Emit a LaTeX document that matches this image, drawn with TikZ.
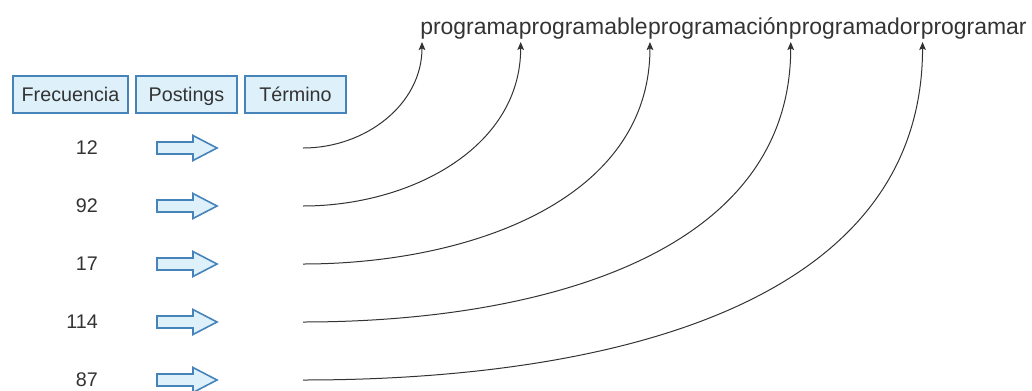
\documentclass[tikz,border=0pt]{standalone}
\usepackage{fontspec}
\setmainfont{Liberation Sans}
\usetikzlibrary{arrows.meta}
\definecolor{boxfill}{HTML}{DEF1FB}
\definecolor{boxdraw}{HTML}{4683B8}
\definecolor{txt}{HTML}{333333}
\begin{document}
\begin{tikzpicture}[x=0.75pt,y=-0.75pt,
  hdr/.style={draw=boxdraw,fill=boxfill,line width=1.5pt,minimum height=27.75pt,inner sep=0pt,text height=10.6pt,text depth=0pt,font=\fontsize{14.8}{17}\selectfont,text=txt},
  num/.style={anchor=east,inner sep=0pt,font=\fontsize{14.8}{17}\selectfont,text=txt},
  word/.style={anchor=base west,inner sep=0pt,font=\fontsize{17.2}{20}\selectfont,text=txt},
  conn/.style={draw=txt,line width=0.75pt,-{Stealth[length=6pt,width=5pt,inset=1.2pt]}},
  blk/.style={draw=boxdraw,fill=boxfill,line width=1.2pt,line join=miter}]
\useasboundingbox (0,0) rectangle (1032,390);

% header
\node[hdr,minimum width=86.25pt] (hf) at (70.5,94) {Frecuencia};
\node[hdr,minimum width=75.75pt] (hp) at (186.5,94) {Postings};
\node[hdr,minimum width=75.75pt] (ht) at (295.5,94) {Término};

% top words
\node[word] (w1) at (420,34) {programa};
\node[word] (w2) at (w1.base east) {programable};
\node[word] (w3) at (w2.base east) {programación};
\node[word] (w4) at (w3.base east) {programador};
\node[word] (w5) at (w4.base east) {programar};

% rows
\foreach \i/\n/\y in {1/12/148,2/92/206,3/17/264,4/114/322,5/87/380}{
  \node[num] (n\i) at (98,\y) {\n};
  \draw[blk] (157,\y-6) -- (193,\y-6) -- (193,\y-12.5) -- (217,\y) -- (193,\y+12.5) -- (193,\y+6) -- (157,\y+6) -- cycle;
  \coordinate (s\i) at (303,\y);
  \draw[conn] (s\i) to[out=0,in=-90] ([xshift=1.5pt,yshift=-6pt]w\i.base west);
}
\end{tikzpicture}
\end{document}
